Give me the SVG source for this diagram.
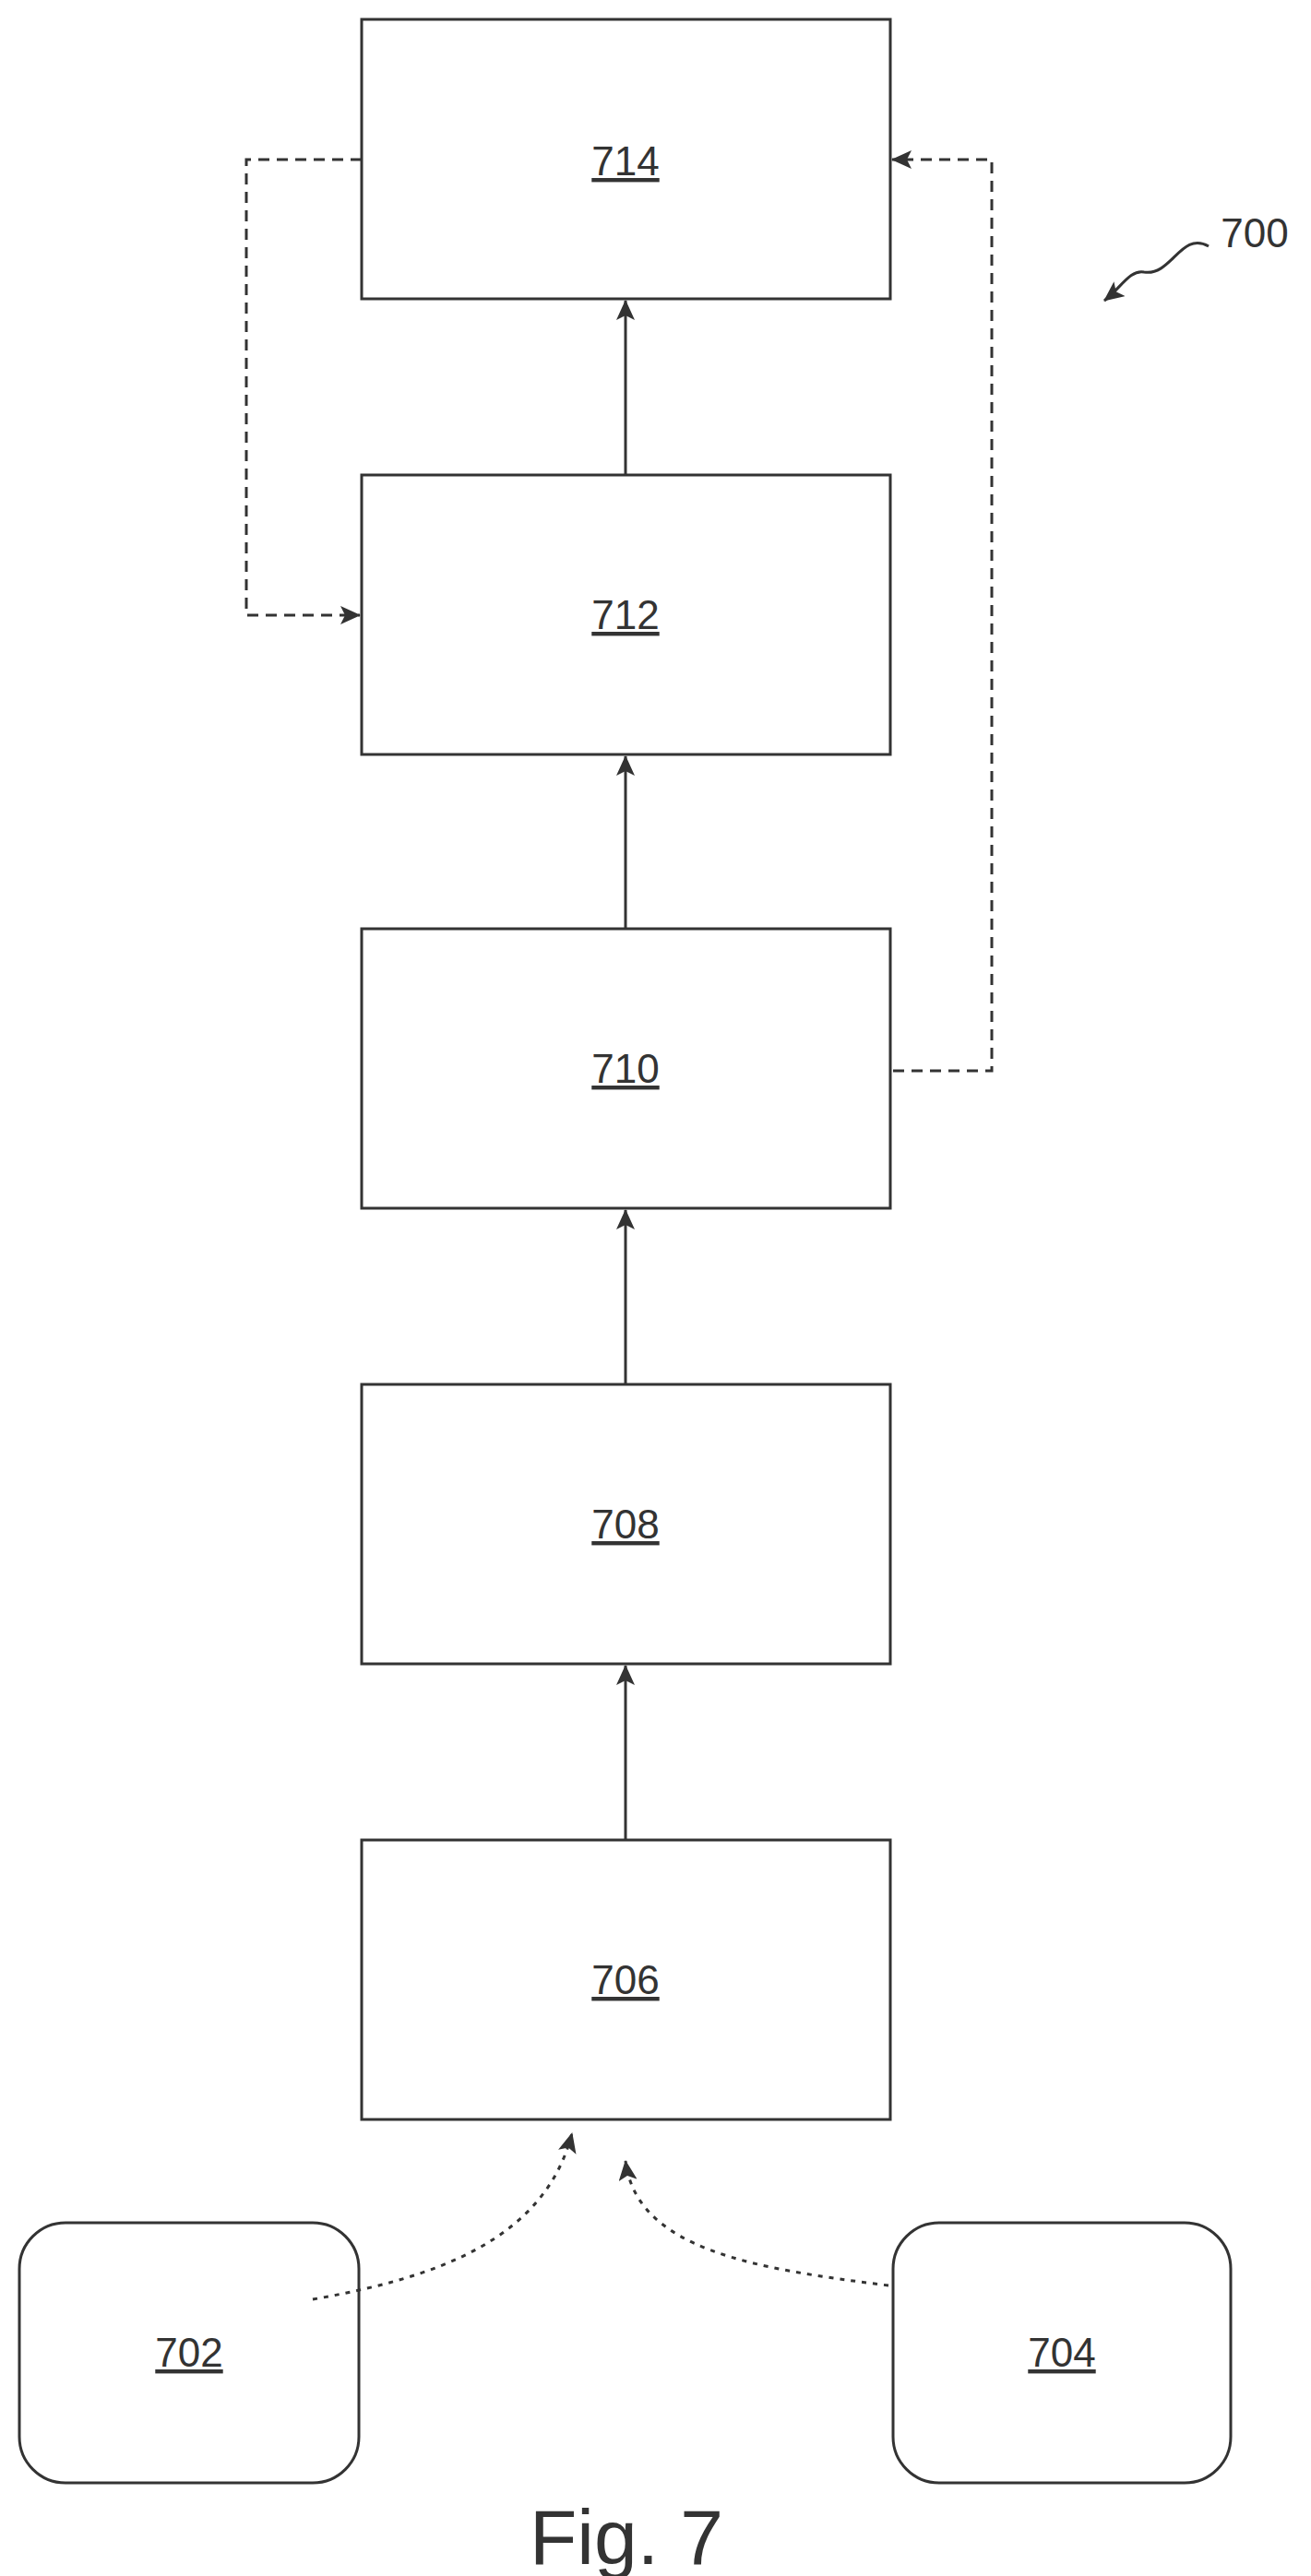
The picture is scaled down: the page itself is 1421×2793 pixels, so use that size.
<svg xmlns="http://www.w3.org/2000/svg" width="1421" height="2793" viewBox="0 0 1421 2793">
<style>
.b{fill:#fff;stroke:#333;stroke-width:3}
.t{font-family:"Liberation Sans",Arial,sans-serif;font-size:44px;fill:#333;text-anchor:middle;text-decoration:underline}
.c{fill:none;stroke:#333;stroke-width:3}
.d{stroke-dasharray:12 8}
.o{stroke-dasharray:5 7}
</style>
<defs><marker id="a" markerWidth="22" markerHeight="20" refX="21" refY="10" orient="auto" markerUnits="userSpaceOnUse"><path d="M0,0 L22,10 L0,20 L5,10 Z" fill="#333"/></marker></defs>
<rect width="1421" height="2793" fill="#fff"/>
<g id="n714"><rect class="b" x="392" y="21" width="573" height="303"/><text class="t" x="678" y="190">714</text></g>
<g id="n712"><rect class="b" x="392" y="515" width="573" height="303"/><text class="t" x="678" y="682">712</text></g>
<g id="n710"><rect class="b" x="392" y="1007" width="573" height="303"/><text class="t" x="678" y="1174">710</text></g>
<g id="n708"><rect class="b" x="392" y="1501" width="573" height="303"/><text class="t" x="678" y="1668">708</text></g>
<g id="n706"><rect class="b" x="392" y="1995" width="573" height="303"/><text class="t" x="678" y="2162">706</text></g>
<g id="n702"><rect class="b" x="21" y="2410" width="368" height="282" rx="50"/><text class="t" x="205" y="2566">702</text></g>
<g id="n704"><rect class="b" x="968" y="2410" width="366" height="282" rx="50"/><text class="t" x="1151" y="2566">704</text></g>
<g id="connectors">
<path class="c" d="M678 515V326" marker-end="url(#a)"/>
<path class="c" d="M678 1007V820" marker-end="url(#a)"/>
<path class="c" d="M678 1501V1312" marker-end="url(#a)"/>
<path class="c" d="M678 1995V1806" marker-end="url(#a)"/>
<path class="c d" d="M392 173H267V667H390" marker-end="url(#a)"/>
<path class="c d" d="M968 1161H1075V173H967" marker-end="url(#a)"/>
<path class="c o" d="M339 2493C470 2470 590 2430 620 2313" marker-end="url(#a)"/>
<path class="c o" d="M963 2478C820 2460 690 2440 678 2343" marker-end="url(#a)"/>
<path class="c" d="M1310 267C1280 250 1270 300 1240 295C1225 292 1215 312 1197 326" marker-end="url(#a)"/>
</g>
<text x="1360" y="268" font-family="Liberation Sans,Arial,sans-serif" font-size="44" fill="#333" text-anchor="middle">700</text>
<text x="679" y="2780" font-family="Liberation Sans,Arial,sans-serif" font-size="84" fill="#333" text-anchor="middle">Fig. 7</text>
</svg>
